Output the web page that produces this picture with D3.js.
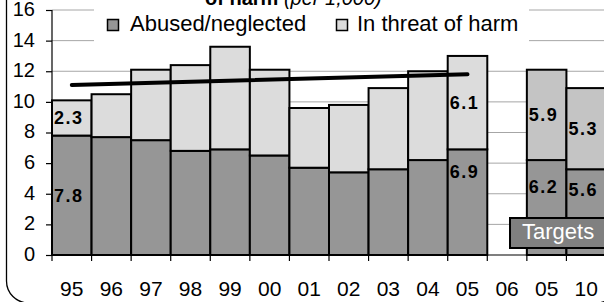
<!DOCTYPE html>
<html><head><meta charset="utf-8">
<script src="https://cdn.jsdelivr.net/npm/d3@7/dist/d3.min.js"></script>
<style>
html,body{margin:0;padding:0;background:#fff;overflow:hidden}
text{font-family:"Liberation Sans",Arial,sans-serif}
</style></head>
<body>
<svg id="chart" width="604" height="302"></svg>
<script>
// ---- data ----
const categories = ["95","96","97","98","99","00","01","02","03","04","05","06","05","10"];
const abused     = [7.8, 7.7, 7.5, 6.8, 6.9, 6.5, 5.7, 5.4, 5.6, 6.2, 6.9, null, 6.2, 5.6];
const threat     = [2.3, 2.8, 4.6, 5.6, 6.7, 5.6, 3.9, 4.4, 5.3, 5.8, 6.1, null, 5.9, 5.3];
const isTarget   = [false,false,false,false,false,false,false,false,false,false,false,false,true,true];
const labelled   = [0, 10, 12, 13];
const trendIdx   = [0, 10];
const trendVal   = [11.1, 11.8];
const yTicks     = [0, 2, 4, 6, 8, 10, 12, 14, 16];
const seriesNames = ["Abused/neglected", "In threat of harm"];

// ---- drawing ----
const svg = d3.select("#chart");
const idx = d3.range(categories.length);
const x = d3.scaleBand().domain(idx).range([52, 606]).padding(0);
const y = d3.scaleLinear().domain([0, 16]).range([255, 10]);
const cDark = "#969696", cLight = "#dcdcdc", cTargetLight = "#c4c4c4";

// gridlines
svg.append("g").selectAll("line").data(yTicks.filter(t => t > 0)).join("line")
  .attr("x1", 52).attr("x2", 606)
  .attr("y1", d => y(d)).attr("y2", d => y(d))
  .attr("stroke", "#a6a6a6").attr("stroke-width", 1);

// legend background
svg.append("rect").attr("x", 94).attr("y", 0).attr("width", 435).attr("height", 44).attr("fill", "#fff");

// title (cut off at top)
const title = svg.append("text").attr("x", 205).attr("y", 4.5).attr("font-size", 20).attr("fill", "#000");
title.append("tspan").attr("font-weight", "bold").text("of harm");
title.append("tspan").attr("font-style", "italic").text(" (per 1,000)");

// bars
const bars = svg.append("g");
idx.forEach(i => {
  if (abused[i] == null) return;
  bars.append("rect")
    .attr("x", x(i)).attr("width", x.bandwidth())
    .attr("y", y(abused[i])).attr("height", y(0) - y(abused[i]))
    .attr("fill", cDark).attr("stroke", "#000").attr("stroke-width", 2);
  bars.append("rect")
    .attr("x", x(i)).attr("width", x.bandwidth())
    .attr("y", y(abused[i] + threat[i])).attr("height", y(abused[i]) - y(abused[i] + threat[i]))
    .attr("fill", isTarget[i] ? cTargetLight : cLight).attr("stroke", "#000").attr("stroke-width", 2);
});

// axes
const yAxis = d3.axisLeft(y).tickValues(yTicks).tickSize(6).tickPadding(11).tickFormat(d3.format("d"));
const gy = svg.append("g").attr("transform", "translate(52,0)").call(yAxis);
gy.select(".domain").attr("stroke", "#000").attr("stroke-width", 1.2).attr("d", `M0,${y(16)}V${y(0)}`);
gy.selectAll(".tick line").attr("stroke", "#000").attr("stroke-width", 1.2);
gy.selectAll(".tick text").attr("font-size", 20).attr("fill", "#000").attr("dy", "0.27em")
  .style("font-family", '"Liberation Sans",Arial,sans-serif');

svg.append("line").attr("x1", 52).attr("x2", 606).attr("y1", y(0)).attr("y2", y(0))
  .attr("stroke", "#000").attr("stroke-width", 1.2);
svg.append("g").selectAll("line").data(d3.range(categories.length + 1)).join("line")
  .attr("x1", d => 52 + d * x.step()).attr("x2", d => 52 + d * x.step())
  .attr("y1", y(0)).attr("y2", y(0) + 6)
  .attr("stroke", "#000").attr("stroke-width", 1.2);
svg.append("g").selectAll("text").data(idx).join("text")
  .attr("x", i => x(i) + x.bandwidth() / 2).attr("y", 296)
  .attr("text-anchor", "middle").attr("font-size", 21).attr("fill", "#000")
  .text(i => categories[i]);

// trend line
svg.append("line")
  .attr("x1", x(trendIdx[0]) + x.bandwidth() / 2).attr("y1", y(trendVal[0]))
  .attr("x2", x(trendIdx[1]) + x.bandwidth() / 2).attr("y2", y(trendVal[1]))
  .attr("stroke", "#000").attr("stroke-width", 4).attr("stroke-linecap", "round");

// value labels
const darkOffset = {0: null, 10: 22, 12: 26, 13: 20};
const lab = svg.append("g").attr("font-size", 18).attr("font-weight", "bold").attr("letter-spacing", 1.5).attr("fill", "#000");
labelled.forEach(i => {
  lab.append("text").attr("x", x(i) + 2).attr("y", y(abused[i] + threat[i] / 2)).attr("dy", "0.36em")
    .text(threat[i].toFixed(1));
  const dy = darkOffset[i] == null ? y(abused[i] / 2) : y(abused[i]) + darkOffset[i];
  lab.append("text").attr("x", x(i) + 2).attr("y", dy).attr("dy", "0.36em")
    .text(abused[i].toFixed(1));
});

// legend
const leg = svg.append("g");
leg.append("rect").attr("x", 107.5).attr("y", 19.5).attr("width", 11).attr("height", 11)
  .attr("fill", cDark).attr("stroke", "#000").attr("stroke-width", 1.5);
leg.append("text").attr("x", 130).attr("y", 31).attr("font-size", 22).attr("fill", "#000").text(seriesNames[0]);
leg.append("rect").attr("x", 336.5).attr("y", 19.5).attr("width", 11).attr("height", 11)
  .attr("fill", cLight).attr("stroke", "#000").attr("stroke-width", 1.5);
leg.append("text").attr("x", 357).attr("y", 31).attr("font-size", 22).attr("fill", "#000").text(seriesNames[1]);

// targets box
svg.append("rect").attr("x", 510).attr("y", 218).attr("width", 110).attr("height", 30)
  .attr("fill", "#808080").attr("stroke", "#000").attr("stroke-width", 2);
svg.append("text").attr("x", 522).attr("y", 239).attr("font-size", 22).attr("fill", "#fff").text("Targets");

// outer frame
svg.append("rect").attr("x", 6.5).attr("y", -40).attr("width", 612).attr("height", 343).attr("rx", 22)
  .attr("fill", "none").attr("stroke", "#000").attr("stroke-width", 1.3);
</script>
</body></html>
